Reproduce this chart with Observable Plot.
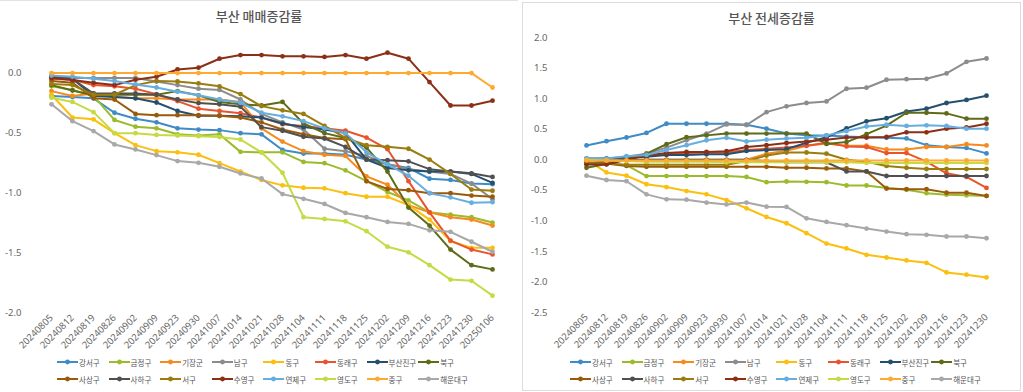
<!DOCTYPE html>
<html><head><meta charset="utf-8">
<script src="https://cdn.jsdelivr.net/npm/d3@7"></script>
<script src="https://cdn.jsdelivr.net/npm/@observablehq/plot@0.6"></script>
<style>
body{margin:0;width:1023px;height:392px;overflow:hidden;background:#fff;position:relative;font-family:"Noto Sans CJK KR","Noto Sans",sans-serif}
.panel{position:absolute;top:0;height:392px}
.title{position:absolute;left:0;right:0;text-align:center;font-size:13px;font-weight:500;color:#555;white-space:nowrap}
.item{position:absolute;display:flex;align-items:center;font-size:7.5px;color:#555;white-space:nowrap;height:10px}
.item svg{margin-right:1px}
.svgwrap{position:absolute;left:0;top:0}
</style></head>
<body>
<div id="left" class="panel" style="left:0;width:518px;border-top:1px solid #e3e3e3"></div>
<div id="right" class="panel" style="left:522px;width:497px;top:2px;height:387px;border:1px solid #dcdcdc"></div>
<script>
const districts = ["강서구","금정구","기장군","남구","동구","동래구","부산진구","북구","사상구","사하구","서구","수영구","연제구","영도구","중구","해운대구"];
const colors = ["#3f8bc6","#9cbb2c","#f58b1f","#8c8c8c","#fbbf0f","#e9532d","#24506e","#5f6b18","#9a5a0a","#505050","#9b7c0e","#8b2f16","#66aee0","#c5da43","#ffa930","#a8a8a8"];
const dates = ["20240805","20240812","20240819","20240826","20240902","20240909","20240923","20240930","20241007","20241014","20241021","20241028","20241104","20241111","20241118","20241125","20241202","20241209","20241216","20241223","20241230","20250106"];
const datesJeonse = ["20240805","20240812","20240819","20240826","20240902","20240909","20240923","20240930","20241007","20241014","20241021","20241028","20241104","20241111","20241118","20241125","20241202","20241209","20241216","20241223","20241230"];
const saleTicks = [-2,-1.5,-1,-0.5,0];
const jeonseTicks = [-2.5,-2,-1.5,-1,-0.5,0,0.5,1,1.5,2];

// 매매증감률
const saleGangseo = [-0.19,-0.20,-0.21,-0.33,-0.38,-0.41,-0.46,-0.47,-0.475,-0.50,-0.51,-0.64,-0.67,-0.67,-0.68,-0.72,-0.76,-0.79,-0.88,-0.89,-0.92,-0.925];
const saleGeumjeong = [-0.11,-0.14,-0.19,-0.39,-0.446,-0.46,-0.51,-0.52,-0.51,-0.656,-0.66,-0.66,-0.74,-0.75,-0.81,-0.90,-0.99,-1.06,-1.16,-1.18,-1.20,-1.245];
const saleGijang = [-0.15,-0.19,-0.17,-0.20,-0.21,-0.21,-0.22,-0.22,-0.22,-0.24,-0.46,-0.57,-0.65,-0.68,-0.69,-0.86,-0.93,-1.10,-1.16,-1.20,-1.22,-1.27];
const saleNam = [-0.03,-0.04,-0.04,-0.04,-0.04,-0.07,-0.10,-0.13,-0.14,-0.22,-0.34,-0.41,-0.47,-0.63,-0.65,-0.69,-0.76,-0.80,-0.82,-0.84,-0.92,-1.05];
const saleDong = [-0.18,-0.37,-0.385,-0.50,-0.60,-0.65,-0.66,-0.68,-0.75,-0.82,-0.89,-0.935,-0.955,-0.96,-1.00,-1.03,-1.03,-1.10,-1.22,-1.40,-1.455,-1.455];
const saleDongnae = [-0.047,-0.055,-0.10,-0.11,-0.13,-0.175,-0.233,-0.296,-0.315,-0.334,-0.37,-0.425,-0.44,-0.46,-0.48,-0.537,-0.634,-0.90,-1.16,-1.395,-1.47,-1.51];
const saleBusanjin = [-0.03,-0.047,-0.19,-0.20,-0.21,-0.245,-0.315,-0.355,-0.355,-0.36,-0.37,-0.42,-0.45,-0.47,-0.50,-0.72,-0.79,-0.81,-0.82,-0.82,-0.84,-0.915];
const saleBuk = [-0.10,-0.145,-0.185,-0.18,-0.18,-0.18,-0.15,-0.185,-0.24,-0.26,-0.27,-0.24,-0.42,-0.50,-0.54,-0.62,-0.82,-1.12,-1.27,-1.47,-1.60,-1.635];
const saleSasang = [-0.065,-0.08,-0.21,-0.22,-0.34,-0.35,-0.35,-0.35,-0.355,-0.37,-0.41,-0.47,-0.51,-0.54,-0.55,-0.90,-0.965,-0.975,-1.00,-1.00,-1.02,-1.03];
const saleSaha = [-0.03,-0.05,-0.17,-0.17,-0.17,-0.18,-0.22,-0.25,-0.26,-0.28,-0.45,-0.48,-0.53,-0.545,-0.615,-0.72,-0.725,-0.735,-0.80,-0.82,-0.835,-0.865];
const saleSeo = [-0.09,-0.10,-0.18,-0.18,-0.10,-0.066,-0.07,-0.086,-0.11,-0.175,-0.275,-0.31,-0.34,-0.44,-0.54,-0.60,-0.614,-0.63,-0.72,-0.84,-0.97,-0.98];
const saleSuyeong = [-0.04,-0.058,-0.08,-0.10,-0.055,-0.03,0.03,0.045,0.12,0.15,0.15,0.14,0.14,0.135,0.15,0.12,0.17,0.12,-0.075,-0.27,-0.27,-0.23];
const saleYeonje = [-0.02,-0.03,-0.047,-0.066,-0.094,-0.12,-0.155,-0.185,-0.22,-0.247,-0.33,-0.36,-0.40,-0.46,-0.50,-0.66,-0.76,-0.855,-1.00,-1.035,-1.08,-1.075];
const saleYeongdo = [-0.205,-0.24,-0.325,-0.50,-0.50,-0.515,-0.52,-0.525,-0.533,-0.553,-0.66,-0.83,-1.20,-1.215,-1.235,-1.317,-1.446,-1.493,-1.60,-1.72,-1.73,-1.854];
const saleJung = [0,0,0,0,0,0,0,0,0,0,0,0,0,0,0,0,0,0,0,0,0,-0.12];
const saleHaeundae = [-0.26,-0.40,-0.483,-0.594,-0.636,-0.683,-0.733,-0.747,-0.78,-0.836,-0.878,-1.008,-1.047,-1.09,-1.165,-1.20,-1.24,-1.256,-1.31,-1.322,-1.405,-1.488];

// 전세증감률
const jeonseGangseo = [0.235,0.305,0.365,0.44,0.59,0.59,0.59,0.59,0.575,0.51,0.43,0.40,0.40,0.38,0.37,0.36,0.35,0.24,0.21,0.195,0.105];
const jeonseGeumjeong = [-0.06,-0.06,-0.087,-0.266,-0.266,-0.266,-0.266,-0.266,-0.28,-0.365,-0.355,-0.36,-0.365,-0.42,-0.42,-0.46,-0.49,-0.545,-0.57,-0.58,-0.59];
const jeonseGijang = [0,0,0,0,0,0,0,0,0,0.10,0.15,0.23,0.265,0.23,0.23,0.17,0.17,0.21,0.21,0.255,0.235];
const jeonseNam = [0.0,0.02,0.05,0.10,0.20,0.32,0.43,0.58,0.57,0.78,0.875,0.93,0.956,1.163,1.18,1.31,1.32,1.326,1.413,1.603,1.658];
const jeonseDong = [0.0,-0.206,-0.26,-0.40,-0.446,-0.511,-0.565,-0.658,-0.793,-0.935,-1.038,-1.20,-1.37,-1.45,-1.554,-1.598,-1.647,-1.685,-1.842,-1.88,-1.924];
const jeonseDongnae = [0.0,0.0,0.03,0.06,0.10,0.11,0.12,0.12,0.16,0.18,0.20,0.23,0.28,0.22,0.21,0.11,0.11,-0.03,-0.22,-0.28,-0.46];
const jeonseBusanjin = [0.02,0.02,0.04,0.05,0.08,0.08,0.09,0.09,0.145,0.16,0.175,0.28,0.37,0.515,0.63,0.68,0.79,0.837,0.93,0.98,1.05];
const jeonseBuk = [-0.13,-0.07,0.02,0.10,0.255,0.37,0.40,0.43,0.43,0.43,0.43,0.43,0.26,0.29,0.42,0.56,0.77,0.77,0.76,0.674,0.674];
const jeonseSasang = [-0.05,-0.06,-0.10,-0.114,-0.114,-0.114,-0.114,-0.114,-0.114,-0.114,-0.13,-0.13,-0.14,-0.14,-0.19,-0.47,-0.48,-0.48,-0.537,-0.537,-0.59];
const jeonseSaha = [-0.05,-0.03,0.0,0.0,0.0,0.0,0.0,0.0,0.0,-0.02,-0.04,-0.04,-0.04,-0.19,-0.19,-0.265,-0.265,-0.265,-0.265,-0.265,-0.265];
const jeonseSeo = [-0.05,-0.06,-0.08,-0.08,-0.08,-0.08,-0.08,-0.08,-0.02,0.07,0.12,0.12,0.10,0.0,-0.03,-0.10,-0.13,-0.15,-0.15,-0.15,-0.15];
const jeonseSuyeong = [-0.076,-0.076,0.0,0.07,0.11,0.13,0.13,0.14,0.21,0.24,0.277,0.30,0.33,0.364,0.364,0.375,0.45,0.45,0.51,0.53,0.59];
const jeonseYeonje = [0.02,0.02,0.06,0.08,0.16,0.24,0.32,0.36,0.30,0.33,0.35,0.36,0.40,0.47,0.545,0.575,0.555,0.565,0.555,0.51,0.51];
const jeonseYeongdo = [0.0,-0.01,-0.02,-0.03,-0.03,-0.03,-0.03,-0.04,-0.04,-0.04,-0.04,-0.04,-0.04,-0.04,-0.05,-0.05,-0.05,-0.05,-0.05,-0.05,-0.05];
const jeonseJung = [-0.01,-0.01,-0.01,-0.01,-0.01,-0.01,-0.01,-0.01,-0.01,-0.01,-0.01,-0.01,-0.01,-0.01,-0.01,-0.01,-0.01,-0.01,-0.01,-0.01,-0.01];
const jeonseHaeundae = [-0.26,-0.33,-0.35,-0.565,-0.647,-0.652,-0.70,-0.73,-0.70,-0.766,-0.77,-0.957,-1.016,-1.07,-1.125,-1.174,-1.217,-1.228,-1.255,-1.255,-1.283];

const saleSeries = [saleGangseo,saleGeumjeong,saleGijang,saleNam,saleDong,saleDongnae,saleBusanjin,saleBuk,saleSasang,saleSaha,saleSeo,saleSuyeong,saleYeonje,saleYeongdo,saleJung,saleHaeundae];
const jeonseSeries = [jeonseGangseo,jeonseGeumjeong,jeonseGijang,jeonseNam,jeonseDong,jeonseDongnae,jeonseBusanjin,jeonseBuk,jeonseSasang,jeonseSaha,jeonseSeo,jeonseSuyeong,jeonseYeonje,jeonseYeongdo,jeonseJung,jeonseHaeundae];

function buildRows(dateList, series) {
  return districts.flatMap((d, k) => series[k].map((v, i) => ({district: d, date: dateList[i], value: v})));
}

function makePanel(el, cfg) {
  const data = buildRows(cfg.dates, cfg.series);
  const marks = [
    Plot.ruleY([0], {stroke: "#dedede", strokeWidth: 1, x1: cfg.xr[0] - 2, x2: cfg.xr[1] + 8}),
    Plot.axisY({ticks: cfg.ticks, tickSize: 0, tickPadding: 7, tickFormat: d => d.toFixed(1), label: null, fontSize: 9.5}),
    Plot.axisX({tickRotate: -45, tickSize: 0, tickPadding: 3, label: null, fontSize: 9.5})
  ];
  districts.forEach(d => {
    const sub = data.filter(r => r.district === d);
    marks.push(Plot.line(sub, {x: "date", y: "value", stroke: "district", strokeWidth: 2}));
    marks.push(Plot.dot(sub, {x: "date", y: "value", fill: "district", r: 2.4}));
  });
  const svg = Plot.plot({
    width: cfg.width, height: 352,
    marginLeft: cfg.marginLeft, marginRight: 8, marginTop: 30, marginBottom: 352 - cfg.yr[0],
    style: {fontFamily: "'Noto Sans','Noto Sans CJK KR',sans-serif", color: "#666", background: "transparent", overflow: "visible"},
    x: {type: "point", domain: cfg.dates, range: cfg.xr, label: null},
    y: {domain: cfg.ydomain, range: cfg.yr, label: null},
    color: {domain: districts, range: colors},
    marks
  });
  const wrap = document.createElement("div");
  wrap.className = "svgwrap";
  wrap.style.left = cfg.svgLeft + "px";
  wrap.style.top = cfg.svgTop + "px";
  wrap.appendChild(svg);
  el.appendChild(wrap);
  const t = document.createElement("div");
  t.className = "title"; t.textContent = cfg.title; t.style.top = cfg.titleTop + "px";
  el.appendChild(t);
  districts.forEach((d, k) => {
    const row = Math.floor(k / 8), col = k % 8;
    const it = document.createElement("div");
    it.className = "item";
    it.style.left = (cfg.legendX + col * 51.6) + "px";
    it.style.top = (cfg.legendY + row * 17 - 5) + "px";
    it.innerHTML = `<svg width="21" height="8"><line x1="0" y1="4" x2="21" y2="4" stroke="${colors[k]}" stroke-width="2"/><circle cx="10.5" cy="4" r="2.4" fill="${colors[k]}"/></svg><span>${d}</span>`;
    el.appendChild(it);
  });
}

makePanel(document.getElementById("left"), {
  title: "부산 매매증감률", titleTop: 5, dates: dates, series: saleSeries,
  width: 518, marginLeft: 28, svgLeft: 0, svgTop: -1,
  xr: [40.7, 502.7], ydomain: [-2, 0.25], yr: [312.7, 42.6], ticks: saleTicks,
  legendX: 57, legendY: 361
});
makePanel(document.getElementById("right"), {
  title: "부산 전세증감률", titleTop: 5, dates: datesJeonse, series: jeonseSeries,
  width: 497, marginLeft: 32, svgLeft: -1, svgTop: -3,
  xr: [46.3, 481.3], ydomain: [-2.5, 2.0], yr: [312.1, 37.1], ticks: jeonseTicks,
  legendX: 47, legendY: 359
});
</script>
</body></html>
